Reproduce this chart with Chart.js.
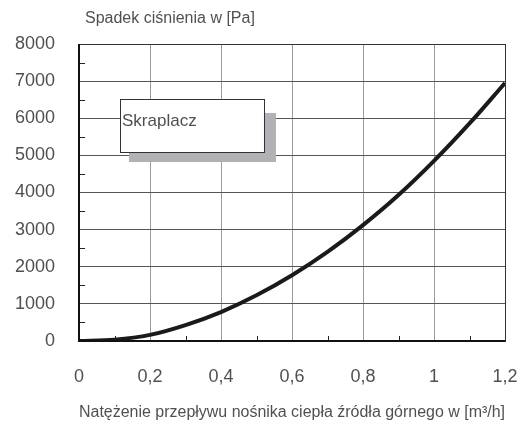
<!DOCTYPE html>
<html>
<head>
<meta charset="utf-8">
<script src="https://cdn.jsdelivr.net/npm/chart.js@4"></script>
<style>
    html, body { margin: 0; padding: 0; background: #fff; }
    #wrap { width: 523px; height: 428px; position: relative; }
</style>
</head>
<body>
<div id="wrap"><canvas id="chart"></canvas></div>
<script>
// flow rate [m3/h] and pressure drop [Pa]
const flowRates = [0, 0.1, 0.2, 0.3, 0.4, 0.5, 0.6, 0.7, 0.8, 0.9, 1.0, 1.1, 1.2];
const pressureDrop = [0, 35, 165, 430, 780, 1230, 1770, 2400, 3120, 3930, 4850, 5860, 6950];

const xTicks = [0, 0.2, 0.4, 0.6, 0.8, 1.0, 1.2];
const yTicks = [0, 1000, 2000, 3000, 4000, 5000, 6000, 7000, 8000];

const yTitle = "Spadek ciśnienia w [Pa]";
const xTitle = "Natężenie przepływu nośnika ciepła źródła górnego w [m³/h]";
const boxLabel = "Skraplacz";

const FONT = "'Liberation Sans', Arial, sans-serif";
const TEXT = "#505050";

// minor ticks, label box and y title
const extras = {
    id: "extras",
    afterDraw(chart) {
        const { ctx, chartArea: a, scales: { x, y } } = chart;
        ctx.save();

        // minor ticks pointing inward
        ctx.strokeStyle = "#222";
        ctx.lineWidth = 1;
        ctx.beginPath();
        for (let v = 500; v < 8000; v += 1000) {
            const py = Math.round(y.getPixelForValue(v)) + 0.5;
            ctx.moveTo(a.left, py);
            ctx.lineTo(a.left + 6, py);
        }
        for (let v = 0.1; v < 1.2; v += 0.2) {
            const px = Math.round(x.getPixelForValue(v)) + 0.5;
            ctx.moveTo(px, a.bottom);
            ctx.lineTo(px, a.bottom - 5);
        }
        ctx.stroke();

        // frame
        ctx.strokeStyle = "#333";
        ctx.lineWidth = 1;
        ctx.strokeRect(a.left + 0.5, a.top + 0.5, a.right - a.left, a.bottom - a.top);
        ctx.strokeStyle = "#111";
        ctx.lineWidth = 2;
        ctx.beginPath();
        ctx.moveTo(a.left, a.top);
        ctx.lineTo(a.left, a.bottom);
        ctx.lineTo(a.right, a.bottom);
        ctx.stroke();

        // label box with shadow
        const bx1 = x.getPixelForValue(0.1155), bx2 = x.getPixelForValue(0.521);
        const by1 = y.getPixelForValue(6520), by2 = y.getPixelForValue(5090);
        ctx.fillStyle = "#b2b2b6";
        ctx.fillRect(bx1 + 9, by1 + 14, bx2 - bx1 + 3, by2 - by1 - 4);
        ctx.fillStyle = "#fff";
        ctx.fillRect(bx1, by1, bx2 - bx1, by2 - by1);
        ctx.strokeStyle = "#333";
        ctx.lineWidth = 1;
        ctx.strokeRect(Math.round(bx1) + 0.5, Math.round(by1) + 0.5, Math.round(bx2 - bx1), Math.round(by2 - by1));
        ctx.fillStyle = TEXT;
        ctx.font = "17px " + FONT;
        ctx.textAlign = "left";
        ctx.textBaseline = "middle";
        ctx.fillText(boxLabel, bx1 + 2, by1 + 22);

        // y axis title on top
        ctx.font = "16px " + FONT;
        ctx.fillText(yTitle, a.left + 6, 19);
        ctx.restore();
    }
};

new Chart(document.getElementById("chart"), {
    type: "line",
    data: {
        datasets: [{
            data: flowRates.map((f, i) => ({ x: f, y: pressureDrop[i] })),
            borderColor: "#1a1a1a",
            borderWidth: 4,
            pointRadius: 0,
            cubicInterpolationMode: "monotone",
            fill: false
        }]
    },
    options: {
        responsive: true,
        maintainAspectRatio: false,
        animation: false,
        layout: { padding: { top: 44, right: 18, left: 0, bottom: 2 } },
        plugins: { legend: { display: false }, tooltip: { enabled: false } },
        scales: {
            x: {
                type: "linear",
                min: 0, max: 1.2,
                afterBuildTicks: s => { s.ticks = xTicks.map(v => ({ value: v })); },
                afterFit: s => { s.height = 85; s.paddingLeft = 0; s.paddingRight = 0; },
                ticks: {
                    padding: 25,
                    color: TEXT,
                    font: { family: FONT, size: 18 },
                    callback: v => String(v).replace(".", ",")
                },
                grid: { color: "#9a9a9a", lineWidth: 1, drawTicks: false },
                border: { display: false },
                title: {
                    display: true, text: xTitle, color: TEXT,
                    font: { family: FONT, size: 16 },
                    padding: { top: 14 }
                }
            },
            y: {
                min: 0, max: 8000,
                afterBuildTicks: s => { s.ticks = yTicks.map(v => ({ value: v })); },
                afterFit: s => { s.width = 79; s.paddingTop = 0; s.paddingBottom = 0; },
                ticks: {
                    padding: 24,
                    color: TEXT,
                    font: { family: FONT, size: 18 },
                    callback: v => String(v)
                },
                grid: { color: "#555", lineWidth: 1, drawTicks: false },
                border: { display: false }
            }
        }
    },
    plugins: [extras]
});
</script>
</body>
</html>
